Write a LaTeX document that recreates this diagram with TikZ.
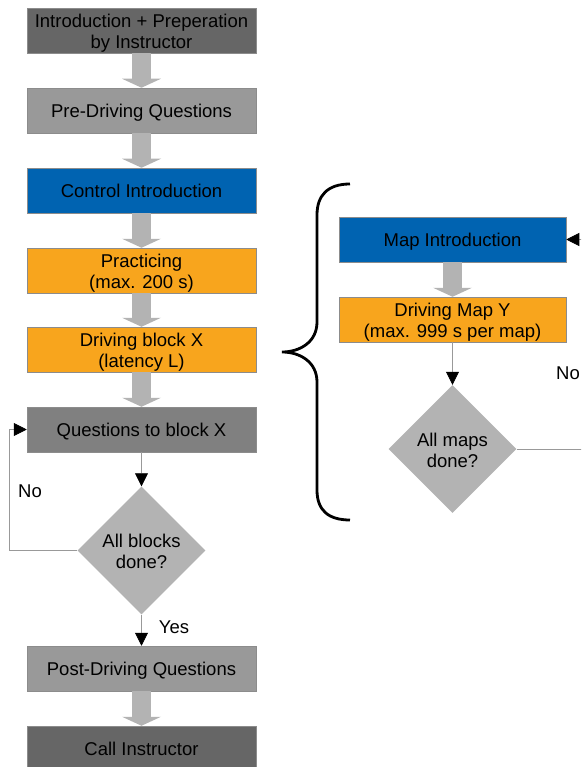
\documentclass[tikz,border=0pt]{standalone}
\usepackage{fontspec}
\setmainfont{Liberation Sans}
\usetikzlibrary{arrows.meta,shapes.geometric}
\definecolor{darkbox}{HTML}{666666}
\definecolor{midbox}{HTML}{999999}
\definecolor{qbox}{HTML}{808080}
\definecolor{bluebox}{HTML}{0063B1}
\definecolor{orangebox}{HTML}{F8A51D}
\definecolor{diagray}{HTML}{B3B3B3}
\definecolor{rimgray}{HTML}{8C8C8C}
\tikzset{
	boxtext/.style={
			align=center, font=\fontsize{18.5}{21}\selectfont,
			text height=19pt, text depth=5.8pt
		},
	twoline/.style={text height=40.5pt, text depth=4.5pt},
	box/.style={
			boxtext, draw=rimgray, line width=0.5pt,
			minimum width=229pt, minimum height=45pt, inner sep=0pt
		},
	decision/.style={
			boxtext, twoline, diamond, fill=diagray, minimum size=128pt, inner sep=0pt
		},
	bigarrow/.style={
			draw=diagray, line width=19pt,
			-{Triangle[width=39pt,length=9pt,line width=0pt]}
		},
	thinarrow/.style={
			draw=midbox, line width=0.7pt,
			-{Triangle[width=13pt,length=13pt,color=black]}
		},
	answer/.style={font=\fontsize{18.5}{21}\selectfont}
}

\begin{document}
\begin{tikzpicture}[x=1pt,y=-1pt]
	\useasboundingbox (0,0) rectangle (581,767);
	\clip (0,0) rectangle (581,767);

	% main column
	\node[box, twoline, fill=darkbox] (intro) at (141.5,30.5) {Introduction + Preperation\\by Instructor};
	\node[box, fill=midbox] (predrive) at (141.5,110.5) {Pre-Driving Questions};
	\node[box, fill=bluebox] (control) at (141.5,190.5) {Control Introduction};
	\node[box, twoline, fill=orangebox] (practice) at (141.5,270.5) {Practicing\\(max. 200 s)};
	\node[box, twoline, fill=orangebox] (drive) at (141.5,349.5) {Driving block X\\(latency L)};
	\node[box, fill=qbox] (questions) at (141.5,429.5) {Questions to block X};
	\node[decision] (blockdone) at (141.5,550.5) {All blocks\\done?};
	\node[box, fill=midbox] (postdrive) at (141.5,668.5) {Post-Driving Questions};
	\node[box, fill=darkbox] (call) at (141.5,748.5) {Call Instructor};

	\draw[bigarrow] (intro) -- (predrive);
	\draw[bigarrow] (predrive) -- (control);
	\draw[bigarrow] (control) -- (practice);
	\draw[bigarrow] (practice) -- (drive);
	\draw[bigarrow] (drive) -- (questions);
	\draw[thinarrow] (questions) -- (blockdone);
	\draw[thinarrow] (blockdone) -- (postdrive);
	\draw[bigarrow] (postdrive) -- (call);

	% loop back for the next block
	\coordinate (blockback) at (9,550.5);
	\draw[thinarrow] (blockdone.west) -- (blockback) |- (questions.west);
	\node[answer] at (30,491) {No};
	\node[answer] at (174,627) {Yes};

	% inner loop over the maps
	\node[box, fill=bluebox, minimum width=227pt] (mapintro) at (452.5,239.5) {Map Introduction};
	\node[box, twoline, fill=orangebox, minimum width=227pt] (mapdrive) at (452.5,319.5) {Driving Map Y\\(max. 999 s per map)};
	\node[decision] (mapdone) at (452.5,449) {All maps\\done?};

	\draw[bigarrow] (mapintro) -- (mapdrive);
	\draw[thinarrow] (mapdrive) -- (mapdone);
	\coordinate (mapback) at (600,449);
	\draw[thinarrow] (mapdone.east) -- (mapback) |- (mapintro.east);
	\node[answer] at (568,373) {No};

	% brace
	\draw[line width=2.8pt] (350,184) .. controls (328,184) and (317,195) .. (317,215)
		-- (317,322) .. controls (317,342) and (300,352) .. (282,352)
		.. controls (300,352) and (317,362) .. (317,382)
		-- (317,490) .. controls (317,510) and (328,520) .. (350,520);
\end{tikzpicture}
\end{document}
